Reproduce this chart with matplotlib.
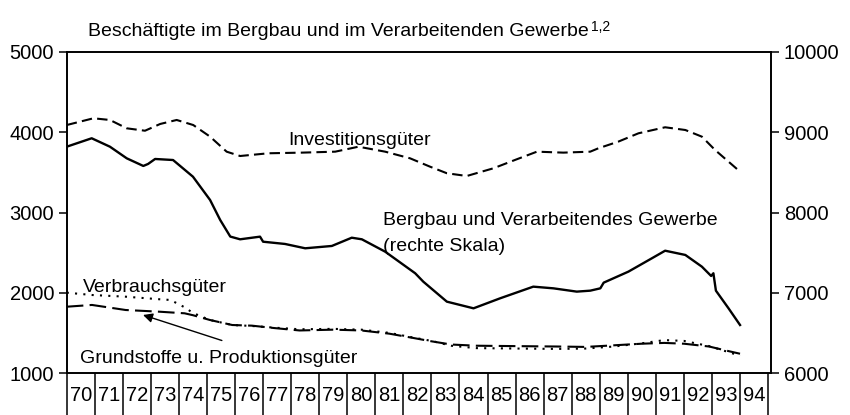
import matplotlib
matplotlib.use("Agg")
import matplotlib.pyplot as plt
from matplotlib.ticker import FixedLocator, NullFormatter, FixedFormatter

plt.rcParams['font.family'] = ['Liberation Sans', 'DejaVu Sans']

# Investitionsgüter (linke Skala, 1000 Beschäftigte)
inv_jahr = [1970.0, 1970.95, 1971.54, 1972.14, 1972.79, 1973.33, 1973.92, 1974.51, 1975.11,
            1975.70, 1976.18, 1977.19, 1978.38, 1979.57, 1980.40, 1981.35, 1982.24, 1982.95,
            1983.55, 1984.26, 1985.21, 1986.04, 1986.76, 1987.70, 1988.66, 1988.95, 1989.66,
            1990.38, 1991.33, 1992.05, 1992.64, 1993.11, 1994.0]
inv_wert = [4090, 4174, 4153, 4049, 4019, 4103, 4153, 4090, 3945,
            3758, 3704, 3738, 3746, 3758, 3820, 3758, 3675, 3571,
            3489, 3455, 3551, 3663, 3758, 3746, 3758, 3800, 3883,
            3987, 4062, 4028, 3945, 3779, 3509]

# Bergbau und Verarbeitendes Gewerbe (rechte Skala)
berg_jahr = [1970.0, 1970.89, 1971.54, 1972.14, 1972.73, 1972.90, 1973.15, 1973.79, 1974.50,
             1975.11, 1975.47, 1975.83, 1976.18, 1976.89, 1977.0, 1977.78, 1978.50, 1979.45,
             1980.16, 1980.52, 1981.35, 1982.42, 1982.71, 1983.55, 1984.50, 1985.45, 1986.63,
             1987.35, 1988.18, 1988.66, 1989.02, 1989.14, 1990.02, 1990.86, 1991.33, 1992.05,
             1992.64, 1992.97, 1993.05, 1993.14, 1993.59, 1994.0]
berg_wert = [8820, 8925, 8820, 8675, 8580, 8605, 8667, 8654, 8446,
             8156, 7907, 7700, 7666, 7699, 7636, 7608, 7554, 7583,
             7686, 7666, 7512, 7243, 7138, 6889, 6806, 6931, 7076,
             7055, 7014, 7026, 7055, 7126, 7263, 7430, 7524, 7471,
             7325, 7209, 7243, 7026, 6806, 6598]

# Verbrauchsgüter und Grundstoffe (linke Skala)
vg_jahr = [1970.0, 1970.9, 1972.1, 1973.3, 1973.7, 1974.2, 1974.5, 1975.1, 1975.9, 1976.6,
           1977.4, 1978.3, 1979.5, 1980.5, 1981.5, 1982.3, 1983.0, 1983.7, 1984.6, 1986.0,
           1987.5, 1988.5, 1989.5, 1990.5, 1991.3, 1992.0, 1992.9, 1993.5, 1994.0]
verbr_wert = [2001, 1972, 1951, 1919, 1910, 1819, 1748, 1661, 1598, 1586,
              1565, 1545, 1550, 1540, 1500, 1445, 1400, 1340, 1310, 1305,
              1300, 1305, 1330, 1370, 1410, 1400, 1335, 1270, 1215]
grund_wert = [1826, 1848, 1785, 1764, 1755, 1744, 1720, 1661, 1598, 1590,
              1560, 1530, 1540, 1530, 1490, 1440, 1395, 1355, 1340, 1335,
              1330, 1325, 1345, 1365, 1375, 1365, 1330, 1280, 1240]

jahre = list(range(1970, 1995))
jahr_labels = [str(j)[2:] for j in jahre]

fig = plt.figure(figsize=(8.5, 4.15), dpi=100)
ax = fig.add_axes([0.0785, 0.1012, 0.8291, 0.7735])
ax2 = ax.twinx()

lw = 1.5
ax.plot(inv_jahr, inv_wert, color='black', lw=lw, dashes=(5, 2.5))
ax.plot(vg_jahr, verbr_wert, color='black', lw=lw, dashes=(1, 3))
ax.plot(vg_jahr, grund_wert, color='black', lw=lw, dashes=(8, 3))
ax2.plot(berg_jahr, berg_wert, color='black', lw=1.7)

ax.set_xlim(1970, 1995.12)
ax.set_ylim(1000, 5000)
ax2.set_ylim(6000, 10000)

ax.set_yticks([1000, 2000, 3000, 4000, 5000])
ax2.set_yticks([6000, 7000, 8000, 9000, 10000])
for a in (ax, ax2):
    a.tick_params(axis='y', direction='out', length=6, width=1.1, pad=3, labelsize=14.5)
    for s in a.spines.values():
        s.set_linewidth(1.2)

# Jahreskästchen unter der Achse
ax.xaxis.set_major_locator(FixedLocator(jahre + [1995]))
ax.xaxis.set_major_formatter(NullFormatter())
ax.xaxis.set_minor_locator(FixedLocator([j + 0.5 for j in jahre]))
ax.xaxis.set_minor_formatter(FixedFormatter(jahr_labels))
ax.tick_params(axis='x', which='major', direction='out', length=32, width=1.1)
ax.tick_params(axis='x', which='minor', length=0, pad=9, labelsize=14.5)

# Beschriftungen
fs = 14
ax.text(1977.9, 3841, 'Investitionsgüter', fontsize=fs, va='baseline')
ax.text(1981.28, 2844, 'Bergbau und Verarbeitendes Gewerbe', fontsize=fs, va='baseline')
ax.text(1981.28, 2520, '(rechte Skala)', fontsize=fs, va='baseline')
ax.text(1970.58, 2010, 'Verbrauchsgüter', fontsize=fs, va='baseline')
ax.text(1970.47, 1125, 'Grundstoffe u. Produktionsgüter', fontsize=fs, va='baseline')
ax.annotate('', xy=(1972.72, 1723), xytext=(1975.53, 1405),
            arrowprops=dict(arrowstyle='-|>', color='black', lw=1.0,
                            mutation_scale=14, shrinkA=0, shrinkB=0))

titel = fig.text(88 / 850, 1 - 36 / 415,
                 'Beschäftigte im Bergbau und im Verarbeitenden Gewerbe',
                 fontsize=fs, va='baseline')
fig.canvas.draw()
bb = titel.get_window_extent()
fig.text((bb.x1 + 2) / 850, (bb.y1 + 3) / 415, '1,2', fontsize=10, va='top', ha='left')

fig.savefig('out.png', dpi=100)
